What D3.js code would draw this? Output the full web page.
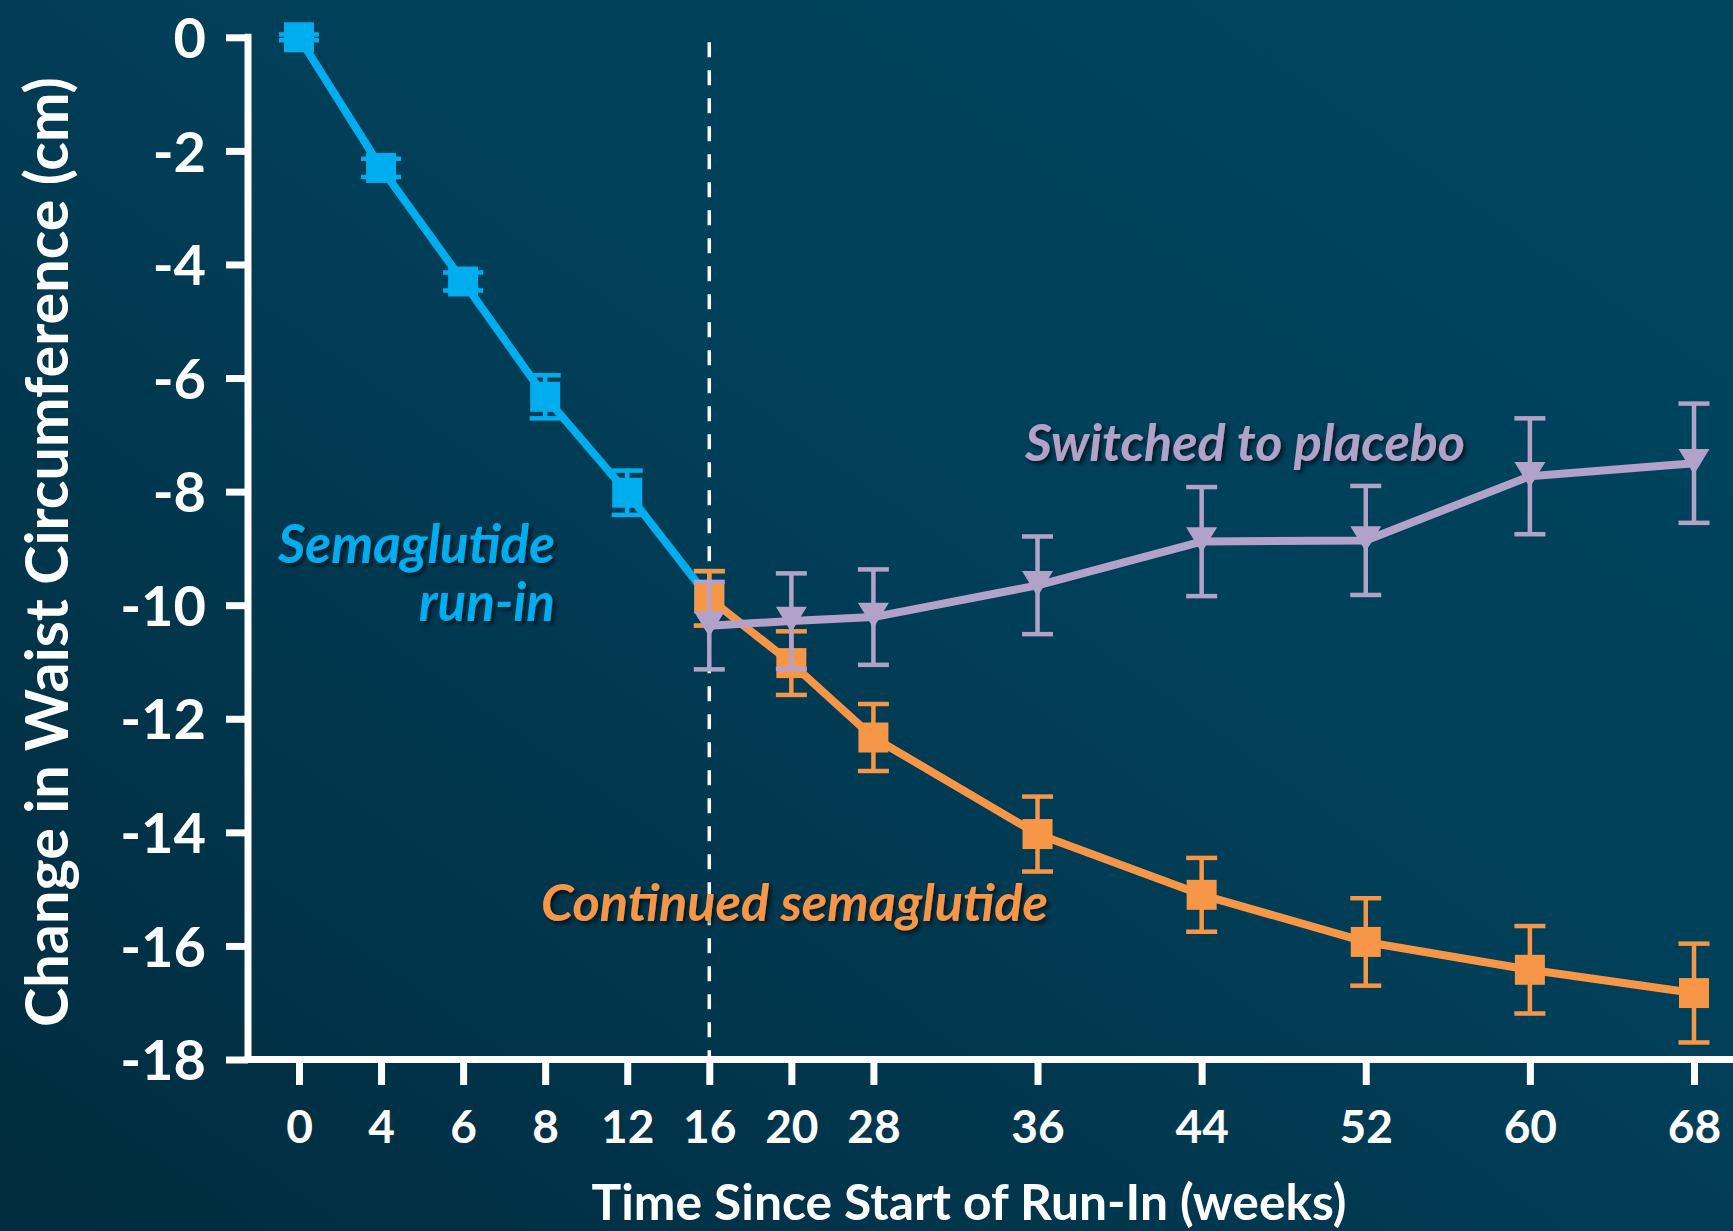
<!DOCTYPE html>
<html><head><meta charset="utf-8">
<script src="https://cdn.jsdelivr.net/npm/d3@7"></script>
<style>html,body{margin:0;padding:0;overflow:hidden;background:#013A52}</style>
</head><body>
<svg id="chart" width="1733" height="1231"></svg>
<script>
// ---- data ----
const weeks = [0, 4, 6, 8, 12, 16, 20, 28, 36, 44, 52, 60, 68];
const yTicks = [0, -2, -4, -6, -8, -10, -12, -14, -16, -18];

const runInWeeks = [0, 4, 6, 8, 12, 16];
const runInMean  = [0, -2.30, -4.30, -6.33, -8.02, -9.88];
const runInErr   = [0.05, 0.16, 0.16, 0.38, 0.39, 0.48];

const contWeeks = [16, 20, 28, 36, 44, 52, 60, 68];
const contMean  = [-9.88, -11.02, -12.33, -14.03, -15.10, -15.93, -16.42, -16.83];
const contErr   = [0.48, 0.56, 0.59, 0.66, 0.65, 0.77, 0.77, 0.87];

const placeboWeeks = [16, 20, 28, 36, 44, 52, 60, 68];
const placeboMean  = [-10.36, -10.28, -10.21, -9.65, -8.88, -8.86, -7.73, -7.50];
const placeboErr   = [0.77, 0.84, 0.84, 0.86, 0.96, 0.96, 1.02, 1.05];

const yTitle = "Change in Waist Circumference (cm)";
const xTitle = "Time Since Start of Run-In (weeks)";
const labelRunIn = ["Semaglutide", "run-in"];
const labelPlacebo = "Switched to placebo";
const labelCont = "Continued semaglutide";

// ---- setup ----
const W = 1733, H = 1231;
const BLUE = "#00AEEF", ORANGE = "#F79646", PURPLE = "#B2A2C9";
const FONT = "Lato, 'Open Sans', sans-serif";
const svg = d3.select("#chart");
const defs = svg.append("defs");
const grad = defs.append("linearGradient").attr("id", "bg")
  .attr("x1", "100%").attr("y1", "0%").attr("x2", "0%").attr("y2", "100%");
grad.append("stop").attr("offset", "0%").attr("stop-color", "#00465F");
grad.append("stop").attr("offset", "45%").attr("stop-color", "#013F58");
grad.append("stop").attr("offset", "100%").attr("stop-color", "#012B3E");
svg.append("rect").attr("width", W).attr("height", H).attr("fill", "url(#bg)");

const shadow = defs.append("filter").attr("id", "shadow")
  .attr("x", "-10%").attr("y", "-30%").attr("width", "130%").attr("height", "170%");
shadow.append("feDropShadow").attr("dx", 3).attr("dy", 3).attr("stdDeviation", 2)
  .attr("flood-color", "#000").attr("flood-opacity", 0.6);

// x scale: early visits one slot apart, later visits two slots apart
const slotOf = i => (i <= 7 ? i : 7 + 2 * (i - 7));
const slotScale = d3.scaleLinear().domain([0, 17]).range([299, 1694]);
const x = d3.scaleLinear().domain(weeks).range(weeks.map((w, i) => slotScale(slotOf(i))));
const y = d3.scaleLinear().domain([0, -18]).range([37.3, 1059.5]);

const AXW = 7;
const axisX0 = 248;
const axisY0 = y(-18);

// y axis
const gy = svg.append("g").attr("transform", `translate(${axisX0},0)`)
  .call(d3.axisLeft(y).tickValues(yTicks).tickSize(22).tickPadding(20).tickFormat(d => String(d)));
gy.select(".domain").remove();
gy.selectAll(".tick line").attr("stroke", "#fff").attr("stroke-width", AXW);
gy.selectAll(".tick text").attr("fill", "#fff").attr("font-family", FONT)
  .attr("font-weight", "bold").attr("font-size", 56).attr("dy", "0.36em");

// x axis
const gx = svg.append("g").attr("transform", `translate(0,${axisY0})`)
  .call(d3.axisBottom(x).tickValues(weeks).tickSize(25.5).tickFormat(d => String(d)));
gx.select(".domain").remove();
gx.selectAll(".tick line").attr("y1", AXW / 2).attr("stroke", "#fff").attr("stroke-width", AXW);
gx.selectAll(".tick text").attr("fill", "#fff").attr("font-family", FONT)
  .attr("font-weight", "bold").attr("font-size", 46).attr("y", 83.5).attr("dy", 0);

// axis lines
svg.append("line").attr("x1", axisX0).attr("x2", axisX0)
  .attr("y1", y(0) - AXW / 2).attr("y2", axisY0 + AXW / 2)
  .attr("stroke", "#fff").attr("stroke-width", AXW);
svg.append("line").attr("x1", axisX0 - AXW / 2).attr("x2", W)
  .attr("y1", axisY0).attr("y2", axisY0)
  .attr("stroke", "#fff").attr("stroke-width", AXW);

// dashed vertical at week 16
svg.append("line").attr("x1", x(16)).attr("x2", x(16))
  .attr("y1", y(0) + 5).attr("y2", axisY0 - AXW / 2)
  .attr("stroke", "#fff").attr("stroke-width", 3.5).attr("stroke-dasharray", "15,13");

// markers
const triDown = {
  draw(ctx, size) {
    const s = Math.sqrt(size);
    ctx.moveTo(-s / 2, -s * 0.46);
    ctx.lineTo(s / 2, -s * 0.46);
    ctx.lineTo(0, s * 0.36);
    ctx.closePath();
  }
};

function drawSeries(wk, mean, err, color, symType, symSize, capW) {
  const data = wk.map((w, i) => ({ w, m: mean[i], e: err[i] }));
  const g = svg.append("g");
  g.append("path").datum(data)
    .attr("d", d3.line().x(d => x(d.w)).y(d => y(d.m)))
    .attr("fill", "none").attr("stroke", color).attr("stroke-width", 8)
    .attr("stroke-linejoin", "round");
  const eb = g.selectAll(".eb").data(data).join("g").attr("class", "eb");
  eb.append("line")
    .attr("x1", d => x(d.w)).attr("x2", d => x(d.w))
    .attr("y1", d => y(d.m + d.e)).attr("y2", d => y(d.m - d.e))
    .attr("stroke", color).attr("stroke-width", 4.5);
  eb.append("line")
    .attr("x1", d => x(d.w) - capW(d) / 2).attr("x2", d => x(d.w) + capW(d) / 2)
    .attr("y1", d => y(d.m + d.e)).attr("y2", d => y(d.m + d.e))
    .attr("stroke", color).attr("stroke-width", 4.5);
  eb.append("line")
    .attr("x1", d => x(d.w) - capW(d) / 2).attr("x2", d => x(d.w) + capW(d) / 2)
    .attr("y1", d => y(d.m - d.e)).attr("y2", d => y(d.m - d.e))
    .attr("stroke", color).attr("stroke-width", 4.5);
  g.selectAll(".mk").data(data).join("path").attr("class", "mk")
    .attr("transform", d => `translate(${x(d.w)},${y(d.m)})`)
    .attr("d", d3.symbol().type(symType).size(symSize))
    .attr("fill", color);
}

drawSeries(runInWeeks, runInMean, runInErr, BLUE, d3.symbolSquare, 30 * 30, d => (d.e < 0.25 ? 40 : 31));
drawSeries(contWeeks, contMean, contErr, ORANGE, d3.symbolSquare, 30 * 30, () => 31);
drawSeries(placeboWeeks, placeboMean, placeboErr, PURPLE, triDown, 31 * 31, () => 31);

// text fitting helper
function fit(sel, target) {
  sel.attr("font-size", 100);
  const w = sel.node().getComputedTextLength();
  const fs = 100 * target / w;
  sel.attr("font-size", fs);
  return fs;
}

// axis titles
const yt = svg.append("text").text(yTitle)
  .attr("transform", "translate(68,552) rotate(-90)")
  .attr("text-anchor", "middle").attr("fill", "#fff")
  .attr("font-family", FONT).attr("font-weight", "bold");
fit(yt, 950);

const xt = svg.append("text").text(xTitle)
  .attr("x", 969).attr("y", 1220)
  .attr("text-anchor", "middle").attr("fill", "#fff")
  .attr("font-family", FONT).attr("font-weight", "bold");
fit(xt, 755);

// annotations
function anno(txt, xx, yy, anchor, color) {
  return svg.append("text").text(txt).attr("x", xx).attr("y", yy)
    .attr("text-anchor", anchor).attr("fill", color)
    .attr("font-family", FONT).attr("font-weight", "bold").attr("font-style", "italic")
    .attr("filter", "url(#shadow)");
}
const a1 = anno(labelRunIn[0], 555, 563, "end", BLUE);
const fs1 = fit(a1, 277);
anno(labelRunIn[1], 555, 621, "end", BLUE).attr("font-size", fs1);

const a2 = anno(labelPlacebo, 1025, 461, "start", PURPLE);
fit(a2, 440);

const a3 = anno(labelCont, 541, 921, "start", ORANGE);
fit(a3, 507);
</script>
</body></html>
